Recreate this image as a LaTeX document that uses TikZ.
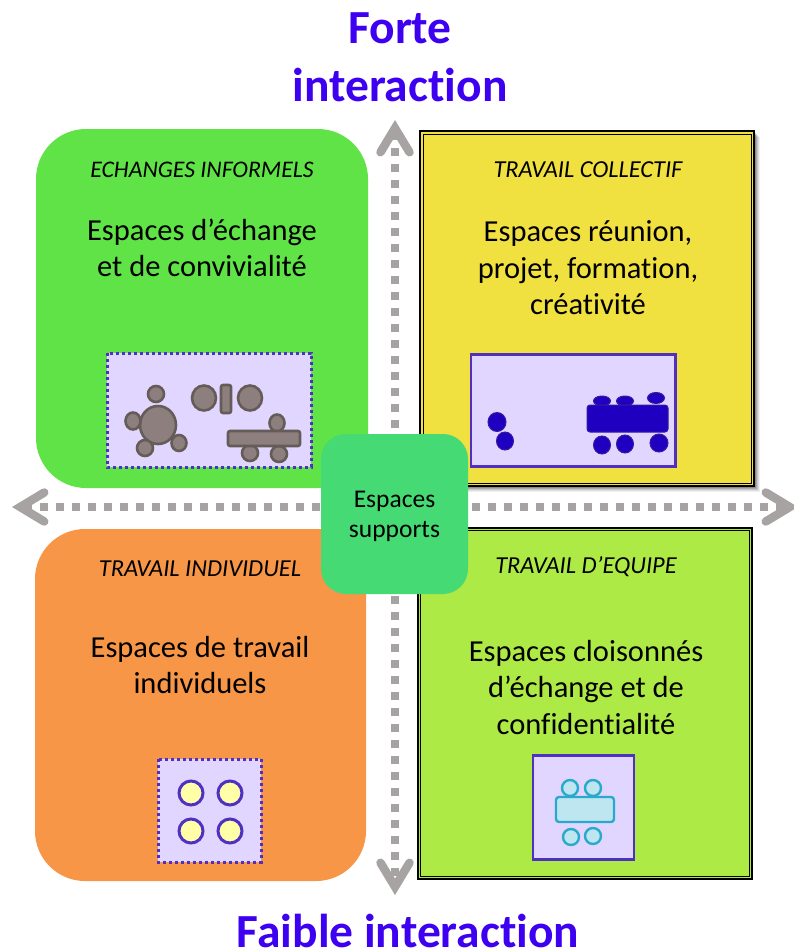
\documentclass[tikz,border=0pt]{standalone}
\usepackage{fontspec}
\setmainfont{Carlito}[Ligatures=NoCommon]
\usetikzlibrary{arrows.meta,calc}
\definecolor{titleblue}{HTML}{3D00F0}
\definecolor{axisgray}{HTML}{A8A3A3}
\definecolor{cgreen}{HTML}{5FE346}
\definecolor{cyellow}{HTML}{F0E040}
\definecolor{corange}{HTML}{F79646}
\definecolor{clime}{HTML}{AEEA46}
\definecolor{csupport}{HTML}{45DA73}
\definecolor{inset}{HTML}{E1D6FF}
\definecolor{insetline}{HTML}{5030C0}
\definecolor{taupe}{HTML}{8C7F7D}
\definecolor{taupeline}{HTML}{655C58}
\definecolor{navy}{HTML}{2000C0}
\definecolor{navyline}{HTML}{3A1AA0}
\definecolor{paleblue}{HTML}{BDE6F0}
\definecolor{tealline}{HTML}{2AA9CC}
\definecolor{paleyellow}{HTML}{FFFFA8}
\tikzset{
  x=1pt,y=-1pt,
  titletext/.style={font=\fontsize{47.5}{47.5}\selectfont\bfseries,text=titleblue,inner sep=0pt},
  headtext/.style={font=\fontsize{23.8}{26}\selectfont\itshape,inner sep=0pt},
  headwide/.style={font=\fontsize{24.4}{26}\selectfont\itshape,inner sep=0pt},
  bodytext/.style={font=\fontsize{30.5}{36.5}\selectfont,align=center,inner sep=0pt},
  axisline/.style={draw=axisgray,line width=8pt,dash pattern=on 8pt off 8pt,
    {Straight Barb[length=24pt,width=29pt,line width=8.5pt,line cap=round,line join=miter]}-{Straight Barb[length=24pt,width=29pt,line width=8.5pt,line cap=round,line join=miter]}},
  insetsolid/.style={draw=insetline,line width=2.6pt,fill=inset},
  insetdotted/.style={draw=insetline,line width=3pt,fill=inset,dash pattern=on 3pt off 3pt},
  taupeitem/.style={draw=taupeline,fill=taupe,line width=2.6pt},
  navyitem/.style={draw=navyline,fill=navy,line width=1pt},
  tealitem/.style={draw=tealline,fill=paleblue,line width=2.4pt},
  yellowitem/.style={draw=insetline,fill=paleyellow,line width=3pt},
}
\begin{document}
\begin{tikzpicture}
\useasboundingbox (0,0) rectangle (794,950);
% axes
\coordinate (axtop) at (395,120);
\coordinate (axbot) at (395,895);
\coordinate (axleft) at (12,507);
\coordinate (axright) at (798,507);
\draw[axisline] (axtop) -- (axbot);
\draw[axisline] (axleft) -- (axright);
% titles
\node[titletext] (t1) at (400,28) {Forte};
\node[titletext] (t2) at (400,85) {interaction};
\node[titletext] (t3) at (408,930.5) {Faible interaction};
% green
\fill[cgreen,rounded corners=50pt] (36,129) rectangle (368,488);
\node[headtext] (h1) at (202,170) {ECHANGES INFORMELS};
\node[bodytext] (b1) at (202,248) {Espaces d’échange\\et de convivialité};
\draw[insetdotted] (107,353) rectangle (311,467);
\draw[taupeitem] (158,425) ellipse[x radius=18,y radius=19];
\foreach \cx/\cy/\rx/\ry in {156/394/8/8,133/421/7.5/8.5,145/448/8/8,179/443/7.5/8,204/398/12/12.5,250/398/12/12.5,277/423/7.5/8.5,250/453/8/8,279/454/8/8}
  \draw[taupeitem] (\cx,\cy) ellipse[x radius=\rx,y radius=\ry];
\draw[taupeitem,rounded corners=2pt] (221,385) rectangle (231,413);
\draw[taupeitem,rounded corners=2pt] (228,431) rectangle (300,446);
% yellow
\foreach \o/\a in {6/.06,5/.08,4/.1,3/.14,2/.18}
  \fill[black,opacity=\a] (420+\o,131+\o) rectangle (754+\o,486+\o);
\draw[black,line width=1.3pt,fill=cyellow] (420,131) rectangle (754,486);
\draw[black,line width=.9pt] (423,134) rectangle (751,483);
\node[headwide] (h2) at (588,170) {TRAVAIL COLLECTIF};
\node[bodytext] (b2) at (588,268) {Espaces réunion,\\projet, formation,\\créativité};
\draw[insetsolid] (471,354.5) rectangle (675.5,466.5);
\foreach \cx/\cy/\rx/\ry in {497/422/9/9.5,505/441/8.5/9,602/401/8.5/5,625/401/8.5/5,656/398/8.5/5.5,602/445/8.5/9,625/444/8.5/9,659/443/9/9}
  \draw[navyitem] (\cx,\cy) ellipse[x radius=\rx,y radius=\ry];
\draw[navyitem,rounded corners=3pt] (587,405) rectangle (668,432);
% orange
\fill[corange,rounded corners=50pt] (35,529) rectangle (366,881);
\node[headwide] (h3) at (200,569) {TRAVAIL INDIVIDUEL};
\node[bodytext] (b3) at (200,665) {Espaces de travail\\individuels};
\draw[insetdotted] (158,759) rectangle (261,862);
\foreach \cx/\cy in {191/793,230/793,191/831,230/831}
  \draw[yellowitem] (\cx,\cy) circle[radius=12];
% lime
\draw[black,line width=1.3pt,fill=clime] (418,528) rectangle (752,879);
\draw[black,line width=.9pt] (420.5,530.5) rectangle (749.5,876.5);
\node[headwide] (h4) at (586,566.5) {TRAVAIL D’EQUIPE};
\node[bodytext] (b4) at (586,687.5) {Espaces cloisonnés\\d’échange et de\\confidentialité};
\draw[insetsolid] (533,755.5) rectangle (634,859.5);
\foreach \cx/\cy in {570/788,593/788,571/837,593/836}
  \draw[tealitem] (\cx,\cy) circle[radius=8];
\draw[tealitem,rounded corners=3pt] (556,797) rectangle (614,822);
% support
\node[fill=csupport,rounded corners=25pt,minimum width=147pt,minimum height=160pt,inner sep=0pt] (s) at (394.5,514) {};
\node[font=\fontsize{25.5}{30}\selectfont,align=center,inner sep=0pt] (st) at (394.5,516.5) {Espaces\\supports};
\end{tikzpicture}
\end{document}
